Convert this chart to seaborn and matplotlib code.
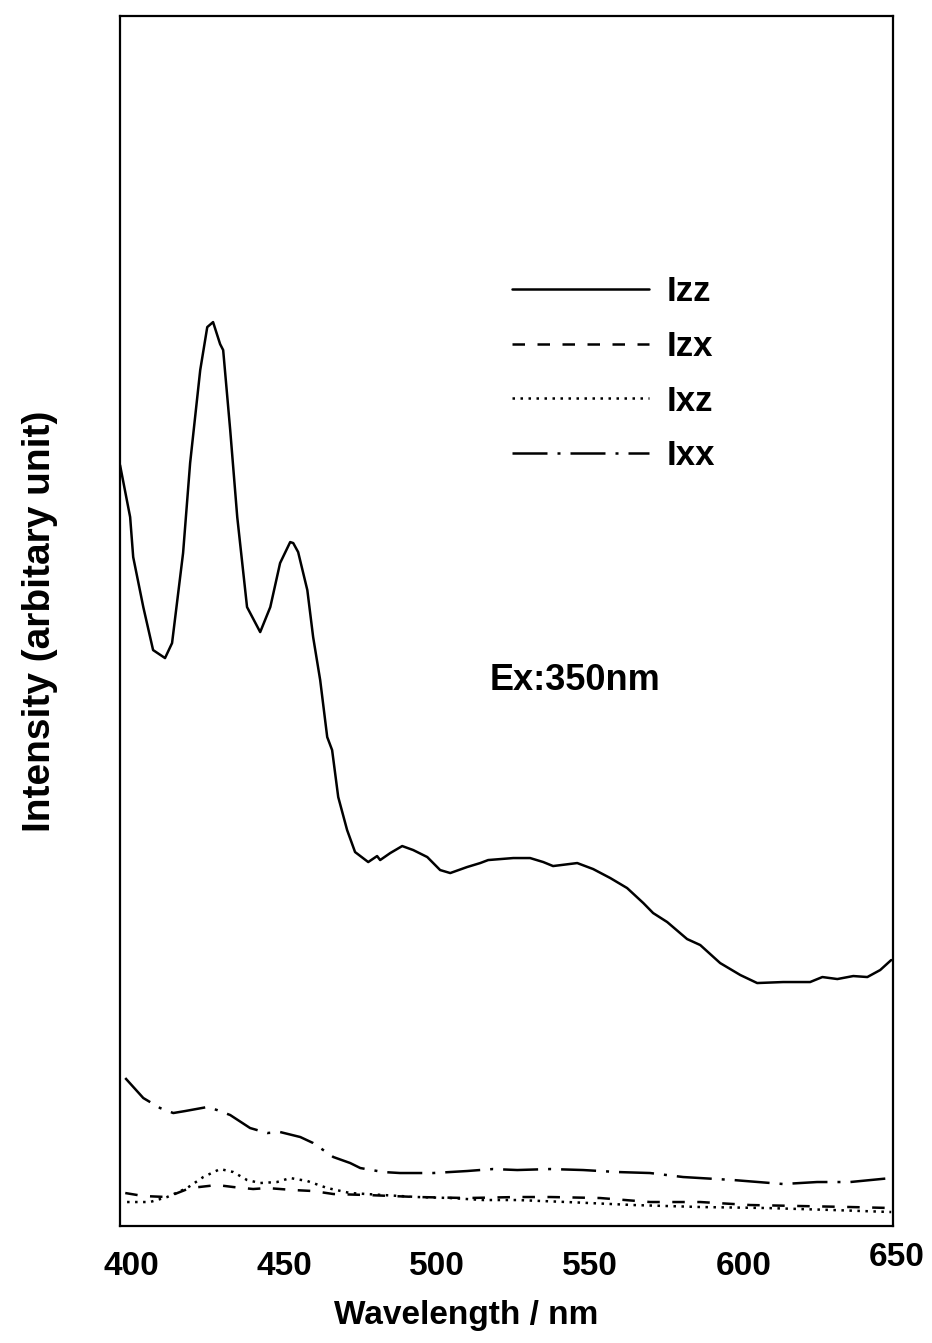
import numpy as np
import pandas as pd
import matplotlib
matplotlib.use("Agg")
import matplotlib.pyplot as plt
import matplotlib.transforms as mtrans
import seaborn as sns

# ---- data ----
izz_wl = [398.0, 401.3, 402.3, 405.6, 408.8, 412.7, 415.0, 418.6, 420.9, 424.2,
          426.5, 428.4, 430.7, 431.7, 434.0, 436.3, 439.5, 443.8, 447.1, 450.3,
          453.6, 454.6, 456.2, 459.2, 461.1, 463.4, 465.7, 467.3, 469.3, 472.2,
          474.8, 479.1, 482.0, 483.0, 486.3, 490.2, 493.8, 498.4, 502.6, 505.9,
          511.4, 515.7, 518.3, 526.5, 532.0, 536.3, 539.5, 547.4, 552.6, 558.2,
          563.7, 569.0, 572.2, 576.8, 583.3, 587.6, 594.1, 600.7, 606.2, 614.7,
          623.5, 627.5, 632.4, 637.6, 642.2, 646.4, 650.0]
izz_val = [76.1, 70.9, 66.9, 61.9, 57.6, 56.8, 58.3, 67.3, 76.3, 85.6,
           89.9, 90.4, 88.2, 87.6, 79.6, 70.9, 61.9, 59.4, 61.9, 66.3,
           68.4, 68.3, 67.4, 63.6, 58.9, 54.6, 48.9, 47.6, 42.9, 39.6,
           37.4, 36.4, 37.0, 36.6, 37.3, 38.0, 37.6, 36.9, 35.6, 35.3,
           35.9, 36.3, 36.6, 36.8, 36.8, 36.4, 36.0, 36.3, 35.7, 34.8,
           33.8, 32.3, 31.3, 30.4, 28.7, 28.1, 26.3, 25.1, 24.3, 24.4,
           24.4, 24.9, 24.7, 25.0, 24.9, 25.6, 26.6]

izx_wl = [399.7, 405.6, 413.4, 420.9, 429.7, 435.0, 441.5, 446.1, 454.6, 461.1,
          467.7, 478.8, 495.1, 511.4, 527.8, 538.6, 554.9, 571.2, 587.6, 603.9,
          620.3, 636.6, 650.0]
izx_val = [3.3, 3.0, 2.9, 3.8, 4.1, 3.9, 3.7, 3.8, 3.6, 3.5,
           3.2, 3.1, 2.9, 2.8, 2.9, 2.9, 2.8, 2.4, 2.4, 2.1,
           2.0, 1.9, 1.8]

ixz_wl = [400.3, 407.8, 413.4, 419.9, 425.2, 430.7, 435.0, 439.5, 443.8, 449.3,
          453.6, 459.2, 465.7, 473.2, 484.0, 495.1, 505.9, 516.7, 527.8, 544.1,
          565.7, 587.6, 609.5, 631.0, 650.0]
ixz_val = [2.4, 2.4, 2.9, 3.8, 4.9, 5.7, 5.4, 4.6, 4.3, 4.4,
           4.8, 4.5, 3.8, 3.3, 3.1, 2.9, 2.8, 2.6, 2.6, 2.4,
           2.1, 1.9, 1.8, 1.6, 1.4]

ixx_wl = [399.7, 405.6, 411.1, 415.4, 419.3, 426.5, 429.7, 434.0, 440.5, 446.1,
          450.3, 456.9, 461.1, 467.7, 473.2, 476.5, 484.0, 489.5, 500.3, 511.4,
          519.9, 527.8, 538.6, 549.3, 560.5, 571.2, 582.0, 598.4, 614.7, 625.8,
          636.6, 650.0]
ixx_val = [14.8, 12.8, 11.8, 11.3, 11.5, 11.9, 11.6, 11.1, 9.8, 9.3,
           9.4, 8.9, 8.3, 6.9, 6.3, 5.8, 5.4, 5.3, 5.3, 5.5,
           5.7, 5.6, 5.7, 5.6, 5.4, 5.3, 4.9, 4.6, 4.2, 4.4,
           4.4, 4.8]

series_names = ["Izz", "Izx", "Ixz", "Ixx"]
tick_values = [400, 450, 500, 550, 600, 650]
tick_labels = ["400", "450", "500", "550", "600", "650"]

# ---- styling ----
sns.set_theme(style="white")
plt.rcParams["font.family"] = ["Liberation Sans Narrow", "Liberation Sans", "DejaVu Sans"]
plt.rcParams["font.weight"] = "bold"
plt.rcParams["text.color"] = "black"
plt.rcParams["axes.labelcolor"] = "black"
plt.rcParams["xtick.color"] = "black"
plt.rcParams["ytick.color"] = "black"

wide = ["Liberation Sans", "DejaVu Sans"]

fig = plt.figure(figsize=(9.32, 13.43), dpi=100)
ax = fig.add_axes([0.1288, 0.0871, 0.8294, 0.9009])

styles = {
    "Izz": "-",
    "Izx": (0, (5, 5)),
    "Ixz": (0, (1, 2.2)),
    "Ixx": (0, (14, 4, 1.2, 4)),
}
data = {
    "Izz": (izz_wl, izz_val),
    "Izx": (izx_wl, izx_val),
    "Ixz": (ixz_wl, ixz_val),
    "Ixx": (ixx_wl, ixx_val),
}
for name in series_names:
    wl, val = data[name]
    df = pd.DataFrame({"wl": wl, "I": val})
    sns.lineplot(data=df, x="wl", y="I", ax=ax, color="black",
                 linewidth=1.8, linestyle=styles[name], label=name,
                 estimator=None, sort=False)

ax.set_xlim(398.0, 650.6)
ax.set_ylim(0, 121)
ax.set_yticks([])
ax.set_xticks(tick_values)
ax.set_xticklabels(tick_labels, fontsize=24, fontweight="bold")
ax.tick_params(axis="x", direction="in", length=17, width=1.2, pad=18, color="black")
ticks = ax.xaxis.get_major_ticks()
ticks[0].tick1line.set_visible(False)
ticks[-1].tick1line.set_visible(False)
for i, tk in enumerate(ticks):
    dy = 9 if i == len(ticks) - 1 else 0
    lab = tk.label1
    lab.set_transform(lab.get_transform() +
                      mtrans.ScaledTranslation(5 / 100, dy / 100, fig.dpi_scale_trans))

for sp in ax.spines.values():
    sp.set_color("black")
    sp.set_linewidth(1.6)

ax.set_xlabel("Wavelength / nm", fontsize=24, fontweight="bold")
ax.set_ylabel("Intensity (arbitary unit)", fontsize=28, fontweight="bold",
              family=wide)
ax.xaxis.set_label_coords(0.448, -0.061)
ax.yaxis.set_label_coords(-0.08, 0.5)

ax.text(0.588, 0.451, "Ex:350nm", fontsize=26, fontweight="bold",
        family=wide, ha="center", va="center", transform=ax.transAxes)

leg = ax.legend(loc="upper left", bbox_to_anchor=(0.467, 0.812), frameon=False,
                prop={"family": wide, "weight": "bold", "size": 25},
                handlelength=3.95, handletextpad=0.5, labelspacing=0.63)

fig.savefig("out.png", dpi=100, facecolor="white")
